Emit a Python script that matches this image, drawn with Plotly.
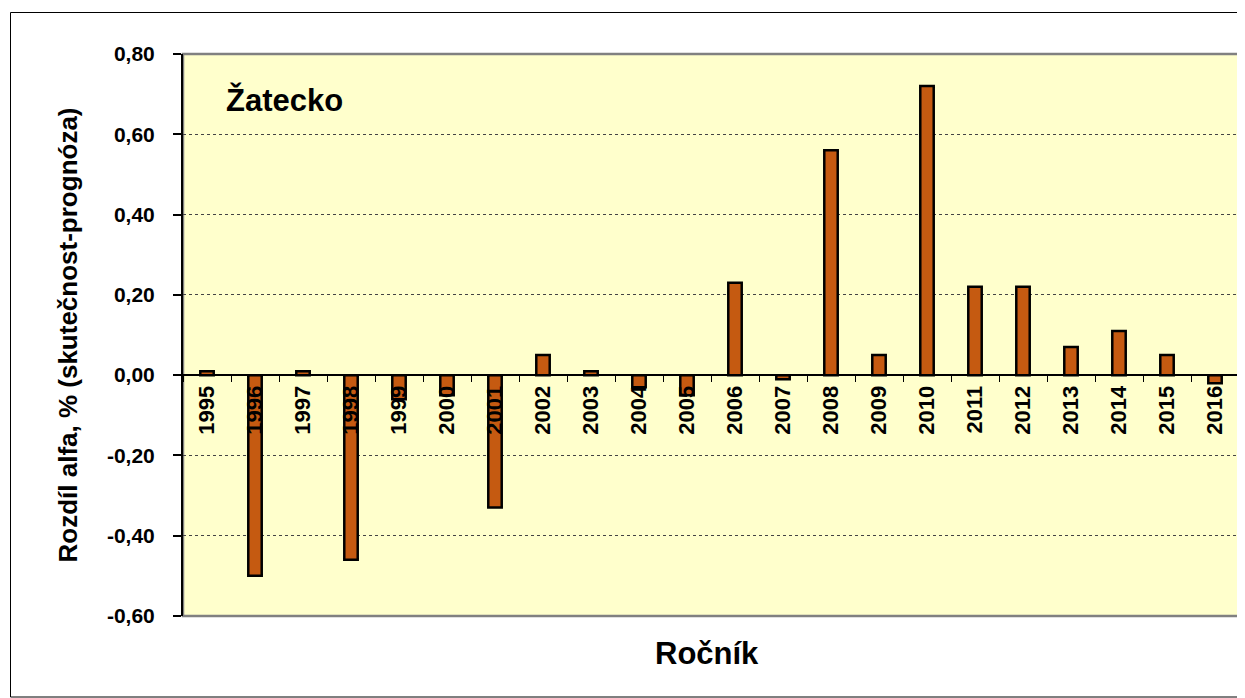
import plotly.graph_objects as go

years = ["1995", "1996", "1997", "1998", "1999", "2000", "2001", "2002", "2003", "2004", "2005",
         "2006", "2007", "2008", "2009", "2010", "2011", "2012", "2013", "2014", "2015", "2016"]
rozdil = [0.01, -0.50, 0.01, -0.46, -0.06, -0.05, -0.33, 0.05, 0.01, -0.03, -0.05,
          0.23, -0.01, 0.56, 0.05, 0.72, 0.22, 0.22, 0.07, 0.11, 0.05, -0.02]
y_tickvals = [-0.6, -0.4, -0.2, 0.0, 0.2, 0.4, 0.6, 0.8]
y_ticktext = ["-0,60", "-0,40", "-0,20", "0,00", "0,20", "0,40", "0,60", "0,80"]
region = "Žatecko"
x_title = "Ročník"
y_title = "Rozdíl alfa, % (skutečnost-prognóza)"

FONT = "Liberation Sans, Arial, sans-serif"
OFF = 8  # page body margin in the browser
W, H = 1245 - OFF, 698 - OFF
# target plot area in screen pixels: x 183..1239, y 54..616
L, T = 183 - OFF, 54 - OFF
R = W - (1239 - OFF)
B = H - (616 - OFF)
pw, ph = W - L - R, H - T - B
ymin, ymax = -0.6, 0.8

fig = go.Figure(go.Bar(
    x=years, y=rozdil, width=0.28,
    marker=dict(color="#C55A11", line=dict(color="black", width=2.5)),
))

def px_x(p):  # screen px -> paper x
    return (p - OFF - L) / pw

def px_y(p):  # screen px -> paper y
    return (H - B - (p - OFF)) / ph

fig.update_layout(
    width=W, height=H,
    margin=dict(l=L, r=R, t=T, b=B),
    paper_bgcolor="white", plot_bgcolor="#FFFFCC",
    showlegend=False,
    font=dict(family=FONT, color="black"),
    xaxis=dict(
        type="category", anchor="free", position=(0 - ymin) / (ymax - ymin),
        showline=True, linecolor="black", linewidth=1.5,
        ticks="outside", ticklen=6, tickwidth=1.2, tickcolor="black",
        tickson="boundaries", tickangle=-90, ticklabelstandoff=1,
        tickfont=dict(family=FONT, size=22, color="black", weight="bold"),
        showgrid=False, automargin=False,
    ),
    yaxis=dict(
        range=[ymin, ymax], tickvals=y_tickvals, ticktext=y_ticktext,
        showline=True, linecolor="black", linewidth=2,
        ticks="outside", ticklen=8, tickwidth=1.5, tickcolor="black",
        ticklabelstandoff=14,
        tickfont=dict(family=FONT, size=21, color="black", weight="bold"),
        showgrid=True, gridcolor="#444444", gridwidth=1, griddash="dot",
        zeroline=False, automargin=False,
        title=dict(text=y_title, standoff=22,
                   font=dict(family=FONT, size=26, color="black", weight="bold")),
    ),
    shapes=[
        dict(type="rect", xref="paper", yref="paper", x0=0, x1=1, y0=0, y1=1,
             line=dict(color="#808080", width=2.5), layer="below"),
        dict(type="rect", xref="paper", yref="paper",
             x0=px_x(10.5), x1=px_x(1243.5), y0=px_y(697), y1=px_y(12.5),
             line=dict(color="black", width=1), layer="below"),
    ],
    annotations=[
        dict(text=region, xref="paper", yref="paper", x=px_x(224), y=px_y(100),
             xanchor="left", yanchor="middle", showarrow=False,
             font=dict(family=FONT, size=31, color="black", weight="bold")),
        dict(text=x_title, xref="paper", yref="paper", x=px_x(707), y=px_y(653),
             xanchor="center", yanchor="middle", showarrow=False,
             font=dict(family=FONT, size=31, color="black", weight="bold")),
    ],
)

fig.write_html("out.html")
